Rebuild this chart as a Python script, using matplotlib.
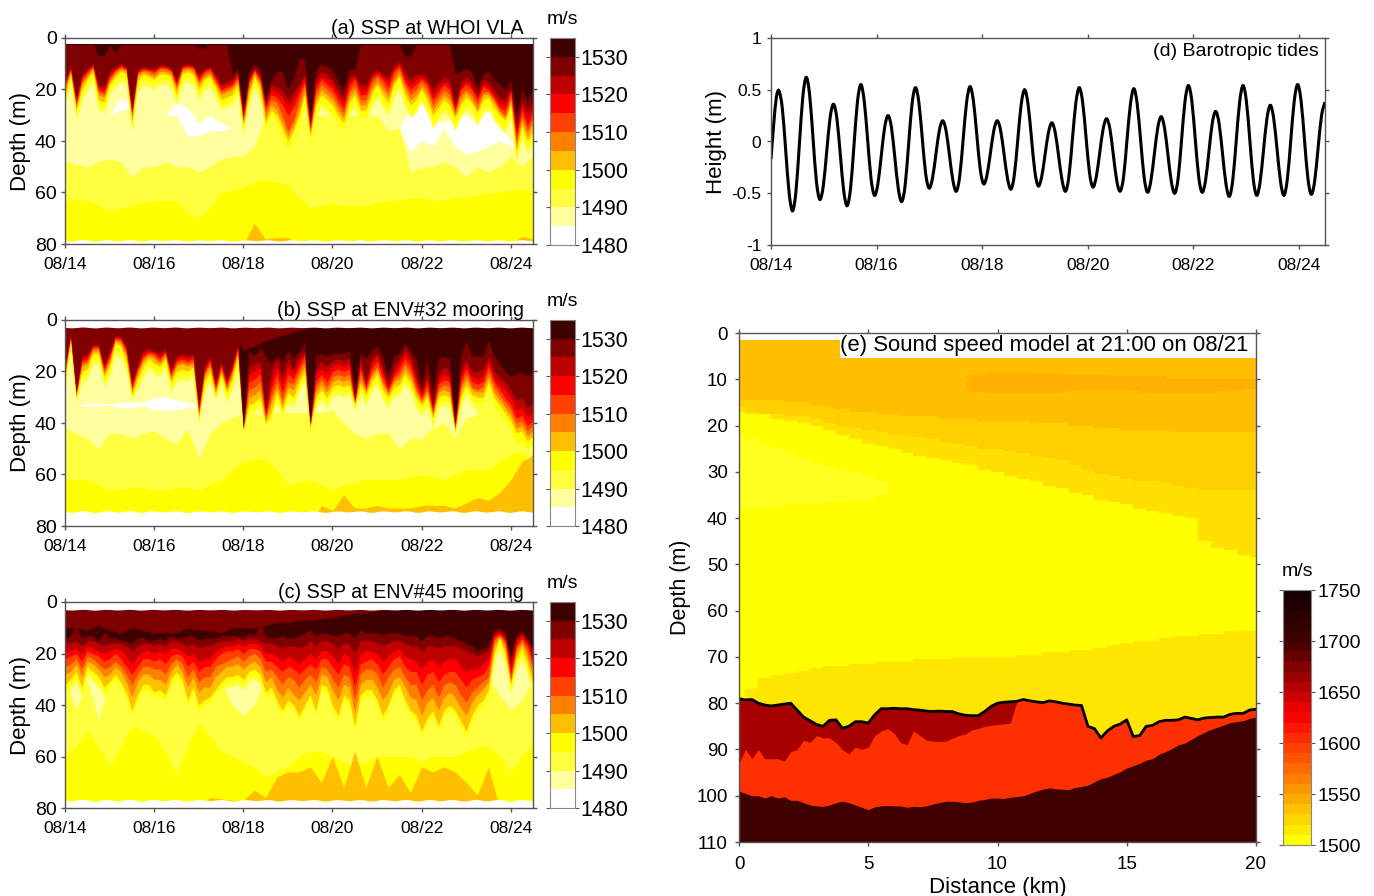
import numpy as np
import matplotlib
matplotlib.use("Agg")
import matplotlib.pyplot as plt
from matplotlib.colors import ListedColormap, BoundaryNorm
from matplotlib.path import Path
from matplotlib.patches import PathPatch

plt.rcParams['font.family'] = ['Liberation Sans', 'DejaVu Sans']

W, H = 1374, 896
AXIS_GRAY = '#555555'

# ---- colour scales
ssp_levels = np.arange(1480, 1540, 5)
ssp_colors = ['#ffffff', '#ffffa0', '#ffff40', '#ffff00', '#ffbf00', '#ff8000',
              '#ff4000', '#ff0000', '#bf0000', '#7f0000', '#3f0000']
ssp_ticks = [1480, 1490, 1500, 1510, 1520, 1530]

model_levels = np.arange(1500, 1760, 10)
model_colors = ['#ffff00', '#ffea00', '#ffd500', '#ffc000', '#ffaa00', '#ff9500', '#ff8000',
                '#ff6a00', '#ff5500', '#ff4000', '#ff2b00', '#ff1500', '#ff0000', '#e60000',
                '#cc0000', '#b30000', '#990000', '#800000', '#660000', '#4d0000', '#3f0000',
                '#330000', '#2a0000', '#200000', '#150000']
model_ticks = [1500, 1550, 1600, 1650, 1700, 1750]

# ---- time axes of the SSP panels: days after 08/14, every 3 h near the top, every 6 h for deep layers
days_fine = np.arange(85) * 0.125
days = np.arange(43) * 0.25
date_ticks = [0, 2, 4, 6, 8, 10]
date_labels = ['08/14', '08/16', '08/18', '08/20', '08/22', '08/24']

# ---- (d) tide height, four steps per half cycle after the first three samples
tide_days = np.concatenate(([0, 0.05, 0.1], 0.15 + 0.06468 * np.arange(161)))
tide_height = [-0.17, 0.16, 0.42,
    0.49, 0.32, -0.09, -0.50, -0.67, -0.48, -0.025, 0.43, 0.62, 0.45, 0.03, -0.39,
    -0.56, -0.43, -0.10, 0.23, 0.36, 0.22, -0.13, -0.48, -0.62, -0.45, -0.035, 0.38,
    0.55, 0.39, 0.015, -0.36, -0.52, -0.41, -0.135, 0.14, 0.25, 0.13, -0.165, -0.46,
    -0.58, -0.42, -0.03, 0.36, 0.52, 0.38, 0.035, -0.31, -0.45, -0.355, -0.125, 0.105,
    0.20, 0.10, -0.14, -0.38, -0.48, -0.33, 0.025, 0.38, 0.53, 0.39, 0.06, -0.27,
    -0.41, -0.32, -0.105, 0.11, 0.20, 0.10, -0.13, -0.36, -0.46, -0.32, 0.02, 0.36,
    0.50, 0.36, 0.035, -0.29, -0.43, -0.34, -0.125, 0.09, 0.18, 0.08, -0.15, -0.38,
    -0.48, -0.33, 0.02, 0.37, 0.52, 0.38, 0.04, -0.30, -0.44, -0.34, -0.11, 0.12,
    0.22, 0.12, -0.13, -0.38, -0.48, -0.34, 0.015, 0.36, 0.51, 0.36, 0.01, -0.34,
    -0.49, -0.38, -0.125, 0.13, 0.24, 0.13, -0.13, -0.39, -0.50, -0.35, 0.02, 0.39,
    0.54, 0.39, 0.025, -0.34, -0.49, -0.38, -0.10, 0.18, 0.29, 0.17, -0.12, -0.41,
    -0.53, -0.37, 0.005, 0.38, 0.54, 0.385, 0.01, -0.365, -0.52, -0.39, -0.085, 0.22,
    0.35, 0.22, -0.085, -0.39, -0.52, -0.36, 0.015, 0.39, 0.55, 0.395, 0.02, -0.355,
    -0.51, -0.38, -0.06, 0.25, 0.38]

# ---- isoline depths (m), panel (a) WHOI VLA
a_d1530 = [2.5,2.5,2.5,2.5,2.5,2.5,7,7,2.5,6, 2.5,2.5,2.5,2.5,2.5,2.5,2.5,2.5,2.5,2.5, 2.5,2.5,2.5,2.5,4,4,2.5,2.5,2.5,2.5, 14,12,27,13,10,12,24,16,13,13, 20,16,8,8,31,12,10,11,12,17, 20,12,12,2.5,2.5,2.5,2.5,2.5,2.5,2.5, 2.5,7,7,2.5,2.5,2.5,2.5,2.5,2.5,2.5, 14,13,12,13,19,14,13,16,18,20, 16,30,20,24,20]
a_d1525 = [16,11,23,14,12,10,18,19,13,11, 10,11,27,12,11,11.5,12,10.5,10.5,11.5, 16,10.5,10,10.5,14,12,11,14,18,17, 16,13,29,15,11.5,14,25,18,19,20, 24,21,18,14,33,16,13,14,16,20, 23,15,14,18,18,14,12,14,15,11, 9,13,16,14,14,15,20,17,15,16, 26,17,15,17,22,16,17,20,23,24, 19,34,24,28,25]
a_d1520 = [17,11.5,24,15,12.5,10.5,19,20,14,12, 10.5,11.5,28,13,11.5,12,12.5,11,11,12, 17,11,10.5,11,15,12.5,11.5,15,19,18, 17,14,30,16,12,15,26,20,21,23, 27,24,20,15,34,18,15,16,18,22, 25,17,15,20,20,15,13,15,17,12, 10,15,18,16,15,17,22,19,17,18, 27,19,17,19,23,18,19,22,25,26, 20,36,26,31,27]
a_d1515 = [18,12,25,16,13,11,20,21,15,12.5, 11,12,29,13.5,12,12.5,13,11.5,11.5,12.5, 18,11.5,11,11.5,16,13,12,16,20,19, 18,15,31,17,12.5,16,27,22,23,26, 30,27,22,17,35,20,16,18,20,24, 27,19,16,22,22,16,14,16,19,13, 11,17,20,18,16,18,24,21,18,20, 28,20,18,20,24,19,20,23,27,28, 21,38,28,34,29]
a_d1510 = [19,12.5,26,17,14,11.5,21,22,16,13, 11.5,12.5,30,14,12.5,13,14,12,12,13, 19,12,11.5,12,17,14,13,17,21,20, 19,16,32,18,13,17,29,24,25,30, 36,32,25,18,36,22,18,20,22,26, 29,21,18,24,24,18,15,18,21,15, 12,18,22,20,17,20,26,23,20,22, 29,22,20,22,26,21,21,24,28,30, 23,40,30,36,31]
a_d1505 = [20,13,27,18,15,12,22,23,17,14, 12,13,31,15,13,14,15,13,13,14, 20,13,12,13,18,15,14,18,22,21, 20,17,33,20,14,18,31,26,28,33, 38,34,28,20,37,24,20,22,24,28, 31,23,20,26,26,20,17,20,23,17, 14,20,24,22,19,22,28,25,22,24, 30,24,21,24,28,22,22,25,29,31, 24,42,32,38,33]
a_d1500 = [22,14,28,20,16,13,24,25,18,15, 13,14,33,17,14,15,16,14,14,15, 22,14,13,14,20,16,15,19,24,23, 22,18,34,22,15,20,33,28,30,35, 40,36,30,22,38,26,22,24,26,30, 33,25,22,28,28,22,18,22,25,18, 15,22,26,24,20,24,30,27,24,26, 31,26,23,25,29,24,23,27,30,32, 26,44,34,40,36]
a_d1495 = [24,16,30,22,18,15,26,27,20,17, 15,16,35,19,16,17,18,16,16,17, 24,16,15,16,22,18,17,21,26,25, 24,20,36,24,17,22,35,30,33,38, 43,39,33,25,40,29,25,27,29,33, 36,28,25,31,31,25,21,25,28,21, 18,25,29,27,23,27,33,30,27,29, 34,29,26,28,32,27,26,30,33,35, 29,47,37,43,39]
a_d1490 = [26,18,32,24,20,17,28,29,22,19, 17,18,37,21,18,19,20,18,18,19, 26,18,17,18,24,20,19,23,28,27, 26,22,38,26,19,24,37,32,35,40, 45,41,35,28,42,31,27,29,31,35, 38,30,27,33,33,27,23,27,30,23, 20,27,31,29,25,29,35,32,29,31, 36,31,28,30,34,29,28,32,35,37, 31,49,39,45,41]
a_cover = [2.5] * 43
a_d1490_low = [48,49,50,48,47,48,54,50,50,48,50,50,52,50,47,46,46,42,30,30,30,30,30,30,30,30,30,30,30,36,35,52,50,50,48,50,54,50,52,50,46,50,45]
a_d1485 = [35,35,35,35,30,23,27,35,35,30,25,27,33,30,33,35,35,35,35,35,35,35,35,35,35,35,35,35,35,35,35,27,24,32,33,30,30,33,28,34,40,42,42]
a_d1485_low = [35,35,35,35,30,28,27,35,35,30,30,38,38,36,36,35,35,35,35,35,35,35,35,35,35,35,35,35,35,35,35,44,40,42,35,42,45,44,42,40,42,42,42]
a_d1495_low = [63,63,63,65,67,66,65,64,63,63,63,68,70,66,60,59,58,56,55,56,57,62,66,65,64,65,65,65,64,63,63,62,62,63,63,62,62,61,60,60,59,59,59]
a_blob = [80,80,80,80,80,80,80,80,80,80,80,80,80,80,80,80,80,72,78,77.5,77.5,80,80,80,80,80,80,80,80,80,80,80,80,80,80,80,80,80,80,80,80,77,78]

# ---- isoline depths (m), panel (b) ENV#32
b_d1530 = [2.8]*32 + [42,12,14,11,14,17,14,16, 12,15,12,9,40,14,13,14,13,13, 13,12,28,13,15,12,10,14,22,14, 13,9,12,15,25,15,28,15,14,15, 40,14,8,14,14,14,8,14,17,20, 22,21,20,22,20]
b_d1525 = [17,5,27,14,13,9.5,9.5,17,12,6, 6.5,10,24,17,12,11,12,13,11,19, 14,13,14,13,33,18,14,24,16,23, 17,9,40,18,17,16,35,20,15,22, 15,19,14,12,40,19,16,18,16,15, 16,15,30,15,24,15,13,18,25,18, 15,11,14,21,28,21,33,21,18,20, 40,20,15,20,20,19,14,20,22,24, 27,31,30,34,32]
b_d1520 = [18,5.5,28,15,14,10,10,18,13,6.5, 7,11,25,18,13,12,12.5,14,12,20, 15,14,15,14,34,19,15,25,17,24, 18,10,41,21,20,18,36,24,18,25, 18,21,16,13,40,21,19,21,18,17, 18,17,31,17,25,17,14,20,26,20, 17,13,16,23,29,23,34,23,21,22, 41,22,17,22,23,22,16,22,25,27, 30,35,34,38,36]
b_d1515 = [19,6,28,16,15,10.5,10.5,19,14,7, 7.5,12,26,19,14,12.5,13,15,12.5,21, 16,15,16,15,35,20,16,26,18,25, 19,11,41,24,23,21,37,27,21,28, 21,23,18,14,40,24,21,24,20,19, 20,19,31,19,26,19,16,22,27,22, 19,15,18,25,30,25,35,25,23,24, 41,24,19,24,25,24,18,24,27,30, 33,38,37,41,39]
b_d1510 = [20,6.5,29,17,16,11,11,20,15,7.5, 8,13,27,20,15,13,14,16,13,22, 17,16,17,16,36,21,17,27,19,26, 20,12,42,27,26,24,38,30,24,31, 24,25,20,16,41,26,23,26,22,21, 22,21,32,21,27,21,18,24,28,23, 21,17,20,27,31,27,36,27,25,26, 42,26,21,26,27,26,20,26,29,32, 35,40,39,43,41]
b_d1505 = [21,7,29,18,17,12,12,21,16,8, 9,14,28,21,16,14,15,17,14,23, 18,17,18,17,37,22,18,28,20,27, 21,13,42,30,29,27,39,32,26,33, 26,27,22,18,41,28,25,28,24,23, 24,23,32,23,28,22,19,25,29,24, 23,19,22,28,32,28,37,28,27,28, 42,28,23,27,28,28,22,28,31,34, 37,42,41,45,43]
b_d1500 = [22,8,30,20,19,13,13,22,18,9, 10,16,29,23,18,15,17,18,15,24, 20,19,20,18,38,24,20,29,21,28, 23,14,43,33,32,30,40,36,28,35, 28,30,24,20,42,30,27,30,26,25, 26,25,33,25,29,24,21,27,30,26, 25,21,24,30,33,30,38,30,29,30, 43,30,25,29,30,30,24,30,33,36, 39,44,43,47,45]
b_d1495 = [24,10,31,22,21,15,15,24,20,11, 12,18,30,25,20,17,19,20,17,26, 22,21,22,20,39,26,22,30,23,30, 25,16,44,35,34,32,41,38,30,37, 30,32,26,22,43,32,29,32,28,27, 28,27,34,27,31,26,23,29,32,28, 27,23,26,32,35,32,40,32,31,32, 44,32,27,31,32,32,26,33,36,39, 42,48,47,50,48]
b_d1490 = [26,12,32,24,23,17,17,26,22,14, 15,20,31,27,22,19,21,22,19,28, 24,23,24,22,40,28,24,31,25,32, 27,19,44,37,36,34,42,40,32,39, 32,34,28,24,44,34,31,34,30,29, 30,29,35,29,33,28,25,31,34,30, 29,25,28,34,37,34,42,34,33,34, 45,34,29,33,36,36,30,37,40,43, 46,52,51,54,52]
b_cover = [2.8]*16 + [12,10,8,6.5,5.5,4,3,2.8,3.2,2.8] + [2.8]*17
b_d1490_low = [42,44,46,50,44,44,46,44,43,46,48,42,54,44,40,38,36,36,38,36,36,36,36,36,35,40,44,46,44,44,50,46,46,42,40,46,38,37,30,30,30,30,30]
b_d1485 = [33,33,32.5,32.5,32.5,32,32,32,30,30,31,32,33,33,33,33,33,33,33,33,33,33,33,33,33,33,33,33,33,33,33,33,33,33,33,33,33,33,33,33,33,33,33]
b_d1485_low = [33,33,33.5,33.5,33,34,34,33,35,35,35,34,34,33,33,33,33,33,33,33,33,33,33,33,33,33,33,33,33,33,33,33,33,33,33,33,33,33,33,33,33,33,33]
b_d1495_low = [62,62,62,64,66,66,65,65,66,66,65,65,66,64,62,58,55,54,54,58,64,63,62,64,66,64,63,62,62,62,62,61,60,61,62,60,58,58,58,55,52,50,48]
b_blob = [80,80,80,80,80,80,80,80,80,80,80,80,80,80,80,80,80,80,80,80,80,80,80,72,74,68,73,73,72,73,73,73,72,72,72,73,71,69,70,67,62,55,52]

# ---- isoline depths (m), panel (c) ENV#45
c_d1530 = [14,13,9,14,13,13,15,12,14,14, 15,15,16,14,14,15,15,14,15,13, 14,14,13,13,15,14,14,14,13,13, 13,13,14,12,13,8,13,14,14,13, 14,14,13,12,11,13,12,12,13,13, 12,12,14,11,12,12,12,13,12,12, 12,13,13,13,15,13,13,14,13,13, 14,15,16,17,19,18,17,11,10,12, 21,13,11,14,18]
c_d1525 = [16,16,15,17,15,15,16,17,16,16, 16,17,19,17,16,16,17,16,17,15, 15,16,17,16,18,17,17,16,15,15, 15,14,15,14,14,15,16,16,17,18, 17,17,18,17,15,17,15,15,16,18, 16,16,20,15,15,15,16,17,16,15, 15,16,17,17,19,17,17,18,17,17, 17,18,19,20,21,20,19,12,11,13, 23,14,12,15,19]
c_d1520 = [19,19,18,20,17,18,19,20,19,18, 19,21,24,21,19,19,20,19,20,18, 18,19,21,20,23,22,22,19,18,17, 17,16,17,16,16,17,20,20,21,23, 21,22,24,22,20,22,19,19,21,24, 20,21,28,20,19,19,20,23,21,19, 18,21,22,23,26,23,22,25,23,22, 22,25,27,26,26,24,22,13,12,14, 25,15,13,16,22]
c_d1515 = [22,21,20,23,19,20,21,23,22,20, 22,25,28,25,22,22,23,22,24,21, 20,21,25,23,27,25,25,22,20,19, 19,18,20,18,18,19,23,23,25,27, 25,26,28,26,24,26,22,22,25,28, 24,25,33,24,23,22,24,28,25,22, 21,25,27,27,32,28,27,31,28,27, 27,30,33,30,29,28,25,14,12.5,15, 28,17,14,17,24]
c_d1510 = [25,24,22,26,21,22,24,26,25,23, 25,28,32,28,25,25,26,26,28,24, 22,24,29,26,31,29,29,25,24,23, 22,21,23,21,20,22,27,26,29,32, 29,30,33,30,28,31,25,26,30,33, 28,29,38,28,26,26,28,33,29,26, 25,29,32,32,38,34,32,37,32,31, 32,36,39,35,33,31,29,15,13,16, 30,18,15,19,26]
c_d1505 = [28,27,24,29,23,24,26,29,28,25, 27,31,37,31,28,28,30,30,32,27, 24,27,33,29,35,33,33,29,27,25, 25,24,26,24,23,25,31,29,34,37, 33,36,38,35,32,36,28,29,34,38, 32,33,43,32,30,30,33,38,35,30, 29,33,37,38,44,39,37,42,37,35, 37,41,44,39,36,34,31,17,13.5,18, 31,20,16,21,29]
c_d1500 = [32,30,27,33,25,27,29,33,31,28, 31,35,42,36,32,32,35,34,36,30, 27,30,38,33,40,38,37,34,31,29, 29,28,30,27,26,28,35,33,38,42, 38,40,44,40,36,42,32,33,40,44, 36,38,48,36,34,34,38,44,40,34, 32,38,42,44,50,45,42,48,42,40, 42,46,50,44,40,38,34,20,14,20, 32,22,18,24,32]
c_d1495 = [34,32,29,35,27,29,31,35,33,30, 33,37,44,38,34,34,37,36,38,32, 29,32,40,35,42,40,39,36,33,31, 31,30,32,29,28,30,37,35,40,44, 40,42,46,42,38,44,34,35,42,46, 38,40,50,38,36,36,40,46,42,36, 34,40,44,46,52,47,44,50,44,42, 44,48,52,46,42,40,36,22,16,22, 34,24,20,26,34]
c_d1490 = [36,34,31,37,29,31,33,37,35,32, 35,39,46,40,36,36,39,38,40,34, 31,34,42,37,44,42,41,38,35,33, 33,32,34,31,30,32,39,37,42,46, 42,44,48,44,40,46,36,37,44,48, 40,42,52,40,38,38,42,48,44,38, 36,42,46,48,54,49,46,52,46,44, 46,50,54,48,44,42,38,24,18,24, 36,26,22,28,36]
c_cover = [10,10,11,9,11,12,10,11,12,12,12,10,11,11,12,10,10,10,9,8,8,7,7,6.5,6,5,4.5,4,3.5,3,2.8,2.8,2.8,2.8,2.8,2.8,2.8,2.8,2.8,2.8,2.8,2.8,2.8]
c_d1490_low = [30,42,30,46,30,30,30,30,30,30,30,30,30,30,30,40,44,40,30,30,30,30,30,30,30,30,30,30,30,30,30,30,30,30,30,30,30,30,30,36,42,38,30]
c_d1485 = [38] * 43
c_d1485_low = [38] * 43
c_d1495_low = [60,56,50,56,64,56,48,50,52,58,67,56,47,52,58,60,62,64,68,66,64,60,58,58,60,62,64,62,60,60,60,60,62,60,60,60,58,56,56,60,66,60,54]
c_blob = [80,80,80,80,80,80,80,80,80,80,80,80,80,76,76.5,77,77,73,76,68,66,66,64,70,60,72,58,72,60,72,67,74,64,66,64,66,70,75,64,80,80,80,80]

# ---- mean surface and bottom of each mooring record, moved by the tide above
a_surface, a_surface_wave, a_bottom, a_bottom_wave = 2.5, 0.0, 78.6, 0.5
b_surface, b_surface_wave, b_bottom, b_bottom_wave = 2.9, 0.25, 74.4, 0.6
c_surface, c_surface_wave, c_bottom, c_bottom_wave = 3.0, 0.25, 77.0, 0.6

# ---- (e) sound speed section, boundaries in m
section_km = np.arange(41) * 0.5
bound_c1 = [14.5,14.5,14.5,14.5,15,15,15.5,16,16.5,17,17,17.5,17.5,18,18,18,18.5,18.5,18.5,19,19,19,19,19.5,19.5,19.5,20,20,20.5,20.5,21,21,21,21,21.5,21.5,21.5,21.5,21.5,21.5,21.5]
bound_c2 = [16,17,17.5,17.5,18,18,18.5,19.5,20,20.5,21,21.5,22,22,22.5,23,23.5,24,24.5,25,25,25.5,26,26.5,27,27.5,28.5,29.5,30.5,31,31.5,32,32,32.5,33,33.5,34,34,34,34,34]
bound_c3 = [17,17.5,17.5,18.5,19,19.5,20,21,22,23,24,24.5,25,26,26.5,27,27.5,28,28.5,29.5,30,31,31.5,32,33,33.5,34.5,35,36,36.5,37,38,38.5,39,39.5,40,45,46.5,47,48,48.5]
bound_low = [81,77,74.5,74,73.5,73,72.5,72,72,71.5,71.5,71,71,71,70.5,70.5,70.5,70,70,70,70,70,69.5,69.5,69,69,68.5,68.5,68,67.5,67,66.5,66.5,66,65.5,65.5,65,65,64.5,64.5,64.5]

warm_km = [8.8,9,10,11,12,13,14,15,16,17,18,19,20]
warm_top = [10.5,9,8.5,8.5,8.8,9,9,9.3,9.3,10,10,10,10]
warm_bottom = [12,12.8,13,13,13,12.5,12.5,12.5,13,13,13,12.5,12]

wedge_km = np.arange(13) * 0.5
wedge_top = [22,23,24,25,26,27,28,29,29.5,30,31,32,34]
wedge_bottom = [38,38,37.5,37.5,37,37,37,36.5,36.5,36.5,36,35,34]

seabed_km = np.arange(81) * 0.25
seabed = [79,79.3,79.2,80,80.4,80.6,80.4,80.2,80,81.5,83,83.8,84.6,85,83.7,83.6,85.4,85,84,84,84.3,
          82.5,81.2,81.2,81.1,81.2,81.2,81.4,81.5,81.7,81.8,81.7,81.8,81.8,82.3,82.6,82.7,82.7,81.8,80.7,
          80,79.8,79.7,79.6,79.2,79.5,79.7,79.9,79.5,79.7,80,80.2,80.4,80.5,85,85.5,87.5,86,85,84.5,
          83.6,87.2,87,85,84.8,84,83.7,83.7,83.6,83,83.3,83.6,83.2,83.1,83,83,82.4,82.2,82.2,81.5,81.3]
upper_sediment = [93,90,92,90,92,92,92,92.5,90.5,90,88,88.5,87,87.5,87.5,88.5,90,91,89.5,90,89.5,
                  87,86,85.5,86.5,88.5,89,86,87,88,88.2,88.3,88.2,87.6,87,86.7,85.8,85.5,85,84.8,
                  84.6,84.5,84.3,79.6,79.2,79.5,79.7,79.9,79.5,79.7,80,80.2,80.4,80.5,85,85.5,87.5,86,85,84.5,
                  83.6,87.2,87,85,84.8,84,83.7,83.7,83.6,83,83.3,83.6,83.2,83.1,83,83,82.4,82.2,82.2,81.5,81.3]
basement = [99,99.5,100,100,100.5,100,100.5,100.2,101,101,101.5,102,102.2,102.3,102,101.5,101.2,101.5,102,102.5,103,
            102.4,102.2,102.1,102.2,102.2,102.5,102.3,102.4,102.2,101.8,101.5,101.2,101.2,101.3,101.5,101.4,101,100.8,100.5,
            100.5,100.6,100.3,100.2,100,99.5,99,98.6,98.3,98.5,98.6,98.7,98.2,98,97.7,97,96.3,96,95.4,94.8,
            94,93.5,93,92.3,92,91,90.5,89.8,89,88.6,87.8,87,86.3,85.7,85.2,84.7,84.2,84,83.8,83.3,83]


def pixel_axes(fig, left, top, right, bottom):
    return fig.add_axes([left / W, 1 - bottom / H, (right - left) / W, (bottom - top) / H])


def style_axes(ax, labelsize=12):
    for side in ax.spines:
        ax.spines[side].set_color(AXIS_GRAY)
        ax.spines[side].set_linewidth(1.0)
    ax.tick_params(which='both', direction='out', top=True, right=True, color=AXIS_GRAY,
                   length=3, width=1, labelsize=labelsize)


def band(ax, x, top, color, step=None):
    ax.fill_between(x, top, 200, color=color, linewidth=0, step=step)


def cap(ax, x, bottom, color):
    ax.fill_between(x, 0, bottom, color=color, linewidth=0)


# smooth line through every tide sample, drawn as bezier segments
def smooth_path(x, y):
    pts = np.column_stack((x, y))
    before = np.vstack((pts[0], pts[:-1]))
    after = np.vstack((pts[1:], pts[-1]))
    tangent = (after - before) / 6
    verts = [pts[0]]
    codes = [Path.MOVETO]
    for i in range(len(pts) - 1):
        verts += [pts[i] + tangent[i], pts[i + 1] - tangent[i + 1], pts[i + 1]]
        codes += [Path.CURVE4, Path.CURVE4, Path.CURVE4]
    return Path(verts, codes)


# paint from the seabed upwards, each layer hides what lies above its own boundary
def draw_ssp(ax, iso, surface, surface_wave, bottom, bottom_wave, title):
    ax.fill_between(days, 0, 80, color='#ffff00', linewidth=0)
    cap(ax, days, iso['d1495_low'], '#ffff40')
    cap(ax, days, iso['d1490_low'], '#ffffa0')
    ax.fill_between(days, iso['d1485'], iso['d1485_low'], color='#ffffff', linewidth=0)
    band(ax, days, iso['blob'], '#ffbf00')
    cap(ax, days_fine, iso['d1490'], '#ffff40')
    cap(ax, days_fine, iso['d1495'], '#ffff00')
    cap(ax, days_fine, iso['d1500'], '#ffbf00')
    cap(ax, days_fine, iso['d1505'], '#ff8000')
    cap(ax, days_fine, iso['d1510'], '#ff4000')
    cap(ax, days_fine, iso['d1515'], '#ff0000')
    cap(ax, days_fine, iso['d1520'], '#bf0000')
    cap(ax, days_fine, iso['d1525'], '#7f0000')
    cap(ax, days_fine, iso['d1530'], '#3f0000')
    cap(ax, days, iso['cover'], '#7f0000')

    tide = np.array(tide_height)
    ax.fill_between(tide_days, 0, surface + surface_wave * tide, color='white', linewidth=0)
    ax.fill_between(tide_days, bottom + bottom_wave * tide, 80, color='white', linewidth=0)

    ax.set_xlim(0, 10.5)
    ax.set_ylim(80, 0)
    ax.set_xticks(date_ticks)
    ax.set_xticklabels(date_labels)
    ax.set_yticks([0, 20, 40, 60, 80])
    ax.set_ylabel('Depth (m)', fontsize=16, labelpad=3)
    style_axes(ax, labelsize=12.5)
    ax.tick_params(axis='x', pad=6.5)
    ax.tick_params(axis='y', labelsize=14, pad=3)
    ax.text(0.981, 1.0, title, transform=ax.transAxes, ha='right', va='bottom', fontsize=14.2)


def draw_colorbar(cax, levels, colors, ticks, labelsize, label_y, pad):
    cmap = ListedColormap(colors)
    norm = BoundaryNorm(levels, cmap.N)
    grid = np.array([levels[:-1] + 0.5]).T
    cax.pcolormesh([0, 1], levels, grid, cmap=cmap, norm=norm)
    cax.set_xticks([])
    cax.yaxis.tick_right()
    cax.set_yticks(ticks)
    cax.set_ylim(levels[0], levels[-1])
    cax.tick_params(axis='y', direction='out', left=True, right=True, color=AXIS_GRAY, length=3,
                    labelsize=labelsize, pad=pad)
    for side in cax.spines:
        cax.spines[side].set_color('#888888')
    cax.text(0.5, label_y, 'm/s', transform=cax.transAxes, ha='center', va='bottom', fontsize=14)


fig = plt.figure(figsize=(W / 100, H / 100), dpi=100, facecolor='white')

iso_a = dict(cover=a_cover, d1530=a_d1530, d1525=a_d1525, d1520=a_d1520, d1515=a_d1515, d1510=a_d1510,
             d1505=a_d1505, d1500=a_d1500, d1495=a_d1495, d1490=a_d1490, d1490_low=a_d1490_low,
             d1485=a_d1485, d1485_low=a_d1485_low, d1495_low=a_d1495_low, blob=a_blob)
iso_b = dict(cover=b_cover, d1530=b_d1530, d1525=b_d1525, d1520=b_d1520, d1515=b_d1515, d1510=b_d1510,
             d1505=b_d1505, d1500=b_d1500, d1495=b_d1495, d1490=b_d1490, d1490_low=b_d1490_low,
             d1485=b_d1485, d1485_low=b_d1485_low, d1495_low=b_d1495_low, blob=b_blob)
iso_c = dict(cover=c_cover, d1530=c_d1530, d1525=c_d1525, d1520=c_d1520, d1515=c_d1515, d1510=c_d1510,
             d1505=c_d1505, d1500=c_d1500, d1495=c_d1495, d1490=c_d1490, d1490_low=c_d1490_low,
             d1485=c_d1485, d1485_low=c_d1485_low, d1495_low=c_d1495_low, blob=c_blob)

ax_a = pixel_axes(fig, 65, 38, 533, 244)
draw_ssp(ax_a, iso_a, a_surface, a_surface_wave, a_bottom, a_bottom_wave, '(a) SSP at WHOI VLA')
ax_b = pixel_axes(fig, 65, 320, 533, 526)
draw_ssp(ax_b, iso_b, b_surface, b_surface_wave, b_bottom, b_bottom_wave, '(b) SSP at ENV#32 mooring')
ax_c = pixel_axes(fig, 65, 602, 533, 808)
draw_ssp(ax_c, iso_c, c_surface, c_surface_wave, c_bottom, c_bottom_wave, '(c) SSP at ENV#45 mooring')

for top, bottom in [(38, 245), (320, 526), (602, 808)]:
    cax = pixel_axes(fig, 550, top, 575, bottom)
    draw_colorbar(cax, ssp_levels, ssp_colors, ssp_ticks, 15.5, 1.05, 1)

# (d) barotropic tides
ax_d = pixel_axes(fig, 771, 38, 1325, 245)
ax_d.add_patch(PathPatch(smooth_path(tide_days, tide_height), fill=False, edgecolor='black', linewidth=2.2))
ax_d.set_xlim(0, 10.5)
ax_d.set_ylim(-1, 1)
ax_d.set_xticks(date_ticks)
ax_d.set_xticklabels(date_labels)
ax_d.set_yticks([-1, -0.5, 0, 0.5, 1])
ax_d.set_yticklabels(['-1', '-0.5', '0', '0.5', '1'])
ax_d.set_ylabel('Height (m)', fontsize=16, labelpad=3)
style_axes(ax_d, labelsize=12.5)
ax_d.tick_params(axis='x', pad=6.5)
ax_d.tick_params(axis='y', pad=4)
ax_d.text(0.988, 0.975, '(d) Barotropic tides', transform=ax_d.transAxes, ha='right', va='top', fontsize=14)

# (e) sound speed model
ax_e = pixel_axes(fig, 739, 333, 1256, 842)
ax_e.fill_between([0, 20], 1.5, 110, color='#ffbf00', linewidth=0)
ax_e.fill_between(warm_km, warm_top, warm_bottom, color='#ffb000', linewidth=0, step='mid')
band(ax_e, section_km, bound_c1, '#ffd000', step='mid')
band(ax_e, section_km, bound_c2, '#ffe000', step='mid')
band(ax_e, section_km, bound_c3, '#ffff00', step='mid')
ax_e.fill_between(wedge_km, wedge_top, wedge_bottom, color='#ffff20', linewidth=0, step='mid')
band(ax_e, section_km, bound_low, '#ffe600', step='mid')
band(ax_e, seabed_km, seabed, '#a60000')
band(ax_e, seabed_km, upper_sediment, '#ff3000')
band(ax_e, seabed_km, basement, '#3f0000')
ax_e.plot(seabed_km, seabed, color='black', linewidth=2)
ax_e.fill_between([3.9, 20], 0, 5.5, color='white', linewidth=0)
ax_e.set_xlim(0, 20)
ax_e.set_ylim(110, 0)
ax_e.set_xticks([0, 5, 10, 15, 20])
ax_e.set_yticks(np.arange(0, 120, 10))
ax_e.set_xlabel('Distance (km)', fontsize=16, labelpad=3)
ax_e.set_ylabel('Depth (m)', fontsize=15.5, labelpad=4)
style_axes(ax_e, labelsize=13.5)
ax_e.tick_params(axis='x', pad=7)
ax_e.tick_params(axis='y', pad=5)
ax_e.text(0.985, 0.9965, '(e) Sound speed model at 21:00 on 08/21', transform=ax_e.transAxes,
          ha='right', va='top', fontsize=15.9)

cax_e = pixel_axes(fig, 1283, 590, 1311, 845)
draw_colorbar(cax_e, model_levels, model_colors, model_ticks, 14, 1.04, 2)

fig.savefig('out.png', dpi=100)
